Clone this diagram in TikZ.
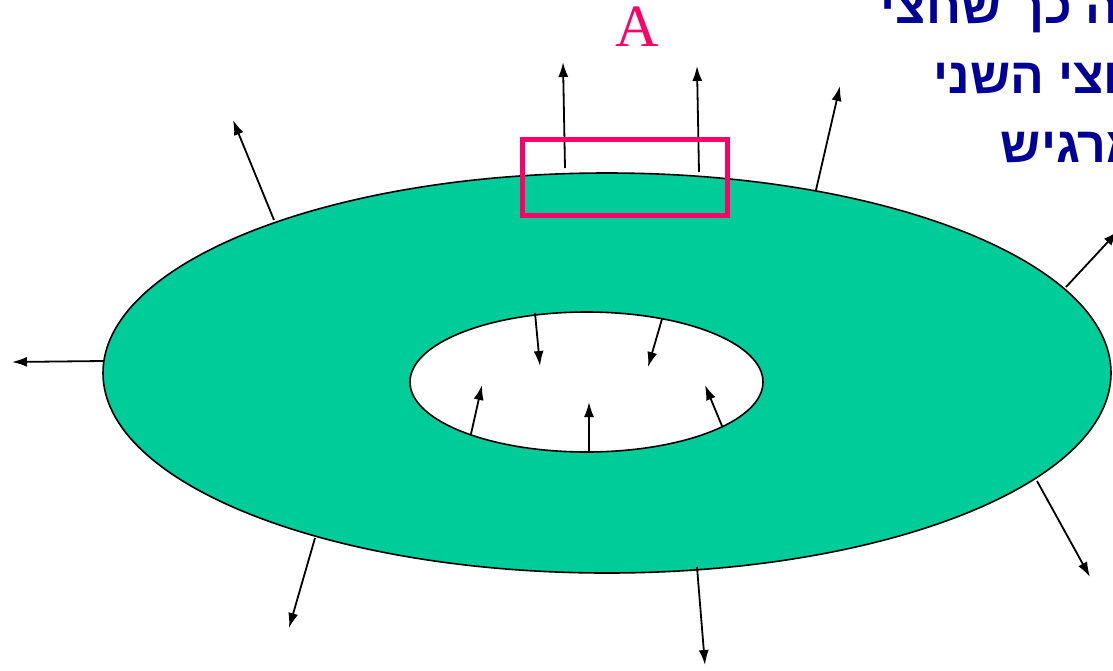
\documentclass[tikz,border=0pt]{standalone}
\usepackage{fontspec}
\usepackage{tikz}
\usetikzlibrary{arrows.meta}
\newfontfamily\hebfont[Script=Hebrew]{Liberation Sans}
\newfontfamily\labelfont{Liberation Serif}
\TeXXeTstate=1
\definecolor{ringgreen}{HTML}{00CC99}
\definecolor{boxpink}{HTML}{FF0066}
\definecolor{textblue}{HTML}{000099}

\begin{document}
\begin{tikzpicture}[x=1pt, y=-1pt, line width=1.6pt,
  field/.style={-{Latex[length=15pt,width=10pt]}, line width=1.8pt},
  hebline/.style={anchor=base west, inner sep=0pt, text=textblue, font=\hebfont\bfseries\fontsize{50}{50}\selectfont}]
  \useasboundingbox (0,0) rectangle (1113,670);
  \clip (0,0) rectangle (1113,670);
  % ring with hole
  \draw[fill=ringgreen] (607,373) ellipse [x radius=504, y radius=200];
  \draw[fill=white] (586.5,382) ellipse [x radius=176.5, y radius=70];
  % field on the outer rim
  \draw[field] (565,168) -- (563,62);
  \draw[field] (699,172) -- (697,66);
  \draw[field] (816,190) -- (840,86);
  \draw[field] (274,220) -- (233,120);
  \draw[field] (1066,287) -- (1118,231);
  \draw[field] (103,361) -- (12,362);
  \draw[field] (315,538) -- (289,628);
  \draw[field] (697,567) -- (705,665);
  \draw[field] (1037,481) -- (1090,577);
  % field on the inner rim
  \draw[field] (535,313) -- (540,366);
  \draw[field] (662,319) -- (648,367);
  \draw[field] (471,434) -- (482,385);
  \draw[field] (589,451) -- (589,402);
  \draw[field] (722,426) -- (705,385);
  % box and its label
  \draw[boxpink, line width=5pt] (522.5,139) rectangle (727,215);
  \node[text=boxpink, font=\labelfont\fontsize{60}{60}\selectfont] (lblA) at (637,27) {A};
  % text
  \node[hebline] (line1) at (880,23) {\beginR בצורה כך שחצי\endR};
  \node[hebline] (line2) at (933,93) {\beginR החצי השני\endR};
  \node[hebline] (line3) at (1000,162) {\beginR מרגיש\endR};
\end{tikzpicture}
\end{document}
